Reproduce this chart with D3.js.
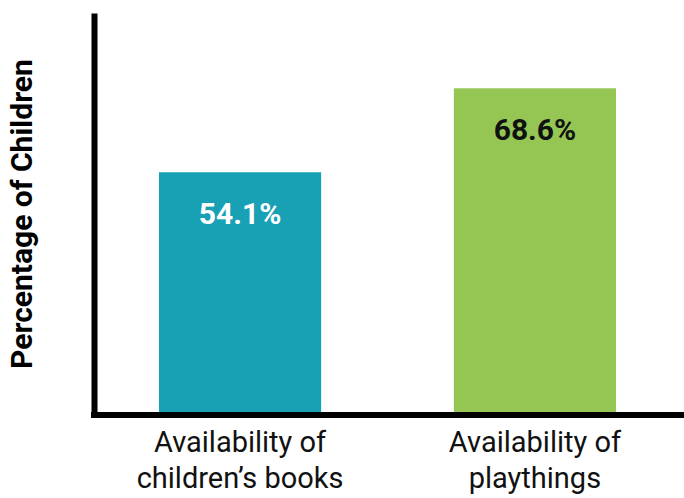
<!DOCTYPE html>
<html lang="en">
<head>
    <meta charset="UTF-8">
    <title>Percentage of Children</title>
    <script src="https://d3js.org/d3.v7.min.js"></script>
    <style>
        body { margin: 0; background: #fff; }
        svg { display: block; font-family: Roboto, "Liberation Sans", sans-serif; }
    </style>
</head>
<body>
    <div id="chart"></div>

    <script>
        // Data
        const categories = ["Availability of children\u2019s books", "Availability of playthings"];
        const labelLines = [["Availability of", "children\u2019s books"], ["Availability of", "playthings"]];
        const values = [54.1, 68.6];
        const barColors = ["#18a0b5", "#95c653"];
        const labelColors = ["#ffffff", "#111111"];

        const svgWidth = 684;
        const svgHeight = 498;
        const axisX = 94;      // centre of the vertical axis stroke
        const baseY = 412;     // top edge of the horizontal axis stroke

        const svg = d3.select("#chart")
            .append("svg")
            .attr("width", svgWidth)
            .attr("height", svgHeight);

        // Scales
        const x = d3.scaleBand()
            .domain(categories)
            .range([100, 675])
            .paddingInner(0.45)
            .paddingOuter(0.2);

        // the picture's baseline is not at zero, fit to the two bar tops
        const y = d3.scaleLinear()
            .domain([12.7, 81.6])
            .range([baseY, 13]);

        // Bars
        svg.selectAll(".bar")
            .data(values)
            .enter().append("rect")
            .attr("class", "bar")
            .attr("x", (d, i) => x(categories[i]))
            .attr("y", d => y(d))
            .attr("width", x.bandwidth())
            .attr("height", d => baseY - y(d))
            .attr("fill", (d, i) => barColors[i]);

        // Value labels inside bars
        svg.selectAll(".value")
            .data(values)
            .enter().append("text")
            .attr("class", "value")
            .attr("x", (d, i) => x(categories[i]) + x.bandwidth() / 2)
            .attr("y", d => y(d) + 52)
            .attr("text-anchor", "middle")
            .style("font-size", "30px")
            .style("font-weight", "bold")
            .attr("fill", (d, i) => labelColors[i])
            .text(d => d.toFixed(1) + "%");

        // Vertical axis
        svg.append("g")
            .attr("transform", `translate(${axisX},0)`)
            .call(d3.axisLeft(y).tickValues([]).tickSizeOuter(0))
            .call(g => g.select(".domain").attr("stroke", "#000").attr("stroke-width", 6));

        // Horizontal axis
        svg.append("line")
            .attr("x1", axisX - 3)
            .attr("x2", svgWidth)
            .attr("y1", baseY + 3)
            .attr("y2", baseY + 3)
            .attr("stroke", "#000")
            .attr("stroke-width", 6);

        // Category labels (two lines each)
        const cat = svg.selectAll(".cat")
            .data(categories)
            .enter().append("text")
            .attr("class", "cat")
            .attr("text-anchor", "middle")
            .style("font-size", "29px")
            .attr("fill", "#111");

        cat.selectAll("tspan")
            .data((d, i) => labelLines[i].map(t => ({ t, c: d })))
            .enter().append("tspan")
            .attr("x", d => x(d.c) + x.bandwidth() / 2)
            .attr("y", (d, j) => 452 + j * 36)
            .text(d => d.t);

        // Y axis title
        svg.append("text")
            .attr("transform", "translate(32,214) rotate(-90)")
            .attr("text-anchor", "middle")
            .style("font-size", "30px")
            .style("font-weight", "bold")
            .attr("fill", "#000")
            .text("Percentage of Children");
    </script>
</body>
</html>
